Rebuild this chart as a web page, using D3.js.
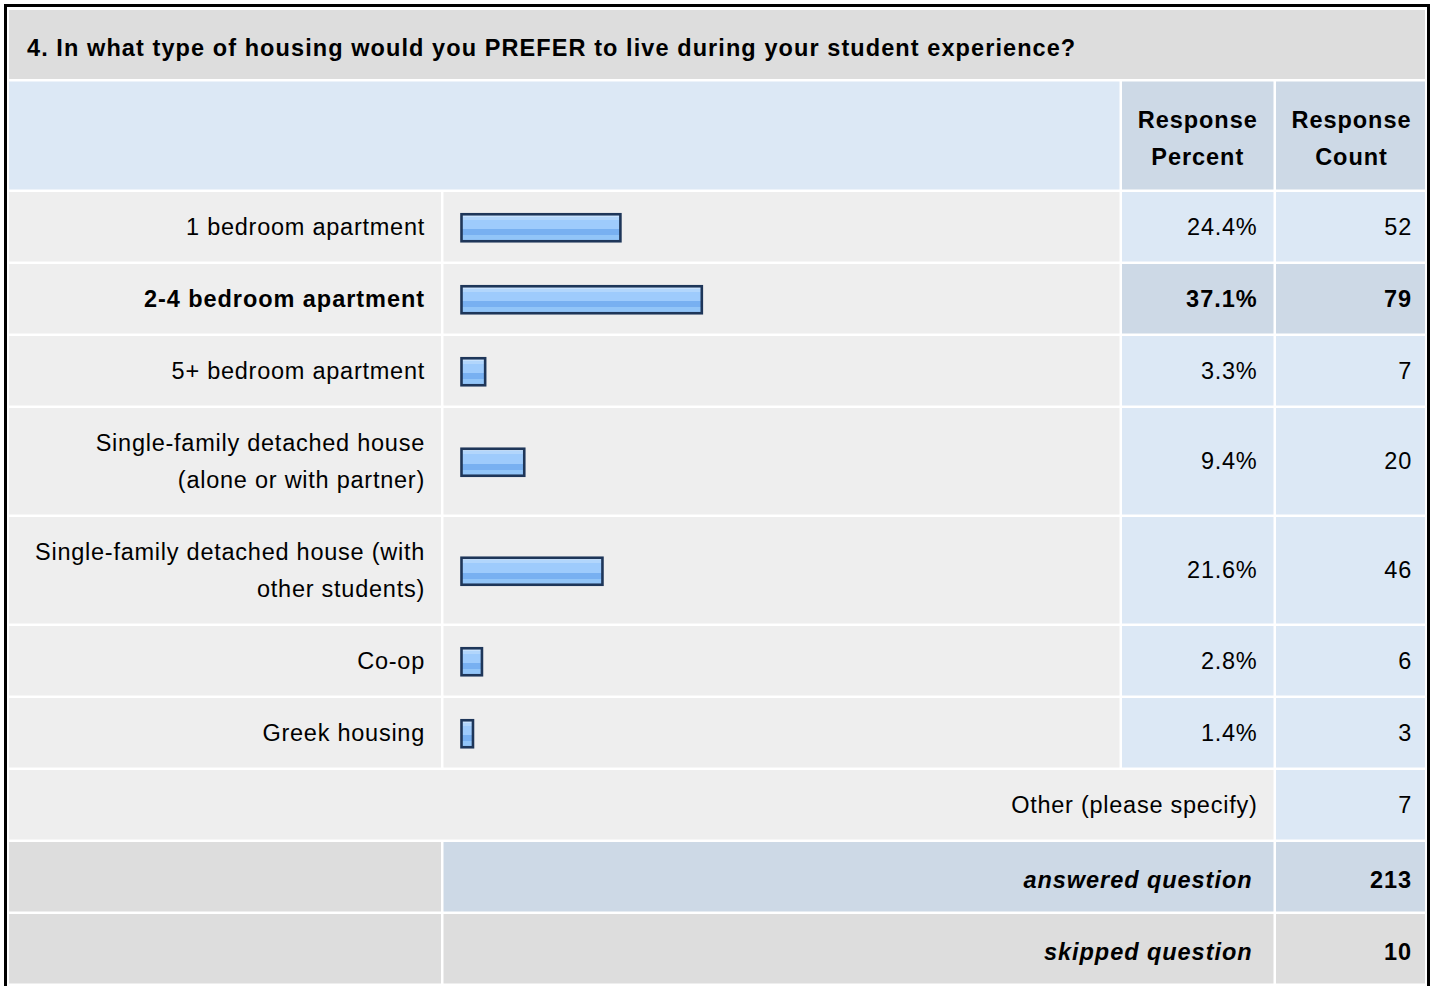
<!DOCTYPE html>
<html><head><meta charset="utf-8">
<script src="https://cdn.jsdelivr.net/npm/d3@7"></script>
<style>
body{margin:0;background:#fff;}
svg{display:block;}
text{font-family:"Liberation Sans",Arial,Helvetica,sans-serif;fill:#000;}
</style>
</head><body>
<svg id="chart" width="1437" height="986"></svg>
<script>
// ---- data ----
const title = "4. In what type of housing would you PREFER to live during your student experience?";
const headerPercent = ["Response", "Percent"];
const headerCount = ["Response", "Count"];
const categories = [
  "1 bedroom apartment",
  "2-4 bedroom apartment",
  "5+ bedroom apartment",
  "Single-family detached house\n(alone or with partner)",
  "Single-family detached house (with\nother students)",
  "Co-op",
  "Greek housing"
];
const percents = [24.4, 37.1, 3.3, 9.4, 21.6, 2.8, 1.4];
const counts = [52, 79, 7, 20, 46, 6, 3];
const otherLabel = "Other (please specify)";
const otherCount = 7;
const summaryLabels = ["answered question", "skipped question"];
const summaryValues = [213, 10];

// ---- style / layout ----
const FS = 23.5, LS_N = 0.75, LS_B = 0.95, LINE = 37;
const C = {
  title: "#dddddd", head: "#dce8f5", headDark: "#cdd9e6",
  cell: "#eeeeee", val: "#dce8f5", valHi: "#cdd9e6", sum: "#dddddd"
};
const cols = [[9, 441], [443.5, 1119.5], [1122, 1273.5], [1276, 1425]];
const GAP = 2.5;

const svg = d3.select("#chart");
svg.append("rect").attr("width", 1437).attr("height", 986).attr("fill", "#fff");

const defs = svg.append("defs");
const grad = defs.append("linearGradient").attr("id", "barGrad")
  .attr("x1", 0).attr("y1", 0).attr("x2", 0).attr("y2", 1);
[[0, "#c8e2fd"], [0.1, "#c8e2fd"], [0.1, "#b2d6fc"], [0.2, "#b2d6fc"], [0.2, "#9ecbfc"],
 [0.55, "#9ecbfc"], [0.55, "#78b0f1"], [0.78, "#78b0f1"], [0.78, "#92c5f8"], [1, "#92c5f8"]]
  .forEach(([o, c]) => grad.append("stop").attr("offset", o).attr("stop-color", c));

const maxIdx = d3.maxIndex(percents);
const x = d3.scaleLinear().domain([0, 100]).range([0, 641]);

function cell(x0, x1, y, h, fill) {
  svg.append("rect").attr("x", x0).attr("y", y).attr("width", x1 - x0).attr("height", h).attr("fill", fill);
}
function txt(lines, xPos, cy, anchor, weight, style, dy) {
  const n = lines.length;
  const bold = weight === "bold" || style === "italic";
  lines.forEach((l, i) => {
    const lc = cy - (n - 1) * LINE / 2 + i * LINE;
    svg.append("text").attr("x", xPos).attr("y", lc + FS * 0.35 + (dy || 0))
      .attr("text-anchor", anchor).attr("font-size", FS)
      .attr("font-weight", weight || "normal").attr("font-style", style || "normal")
      .attr("letter-spacing", bold ? LS_B : LS_N).text(l);
  });
}
function rowH(n) { return 32.5 + LINE * n; }

// outer border
svg.append("rect").attr("x", 5.5).attr("y", 5.5).attr("width", 1423).attr("height", 1000)
  .attr("fill", "none").attr("stroke", "#000").attr("stroke-width", 3);

let y = 10;
// title
cell(cols[0][0], cols[3][1], y, 69, C.title);
svg.append("text").attr("x", 27).attr("y", y + 46).attr("font-size", FS).attr("font-weight", "bold")
  .attr("letter-spacing", 1.08).text(title);
y += 69 + GAP;

// header
const hh = 108;
cell(cols[0][0], cols[1][1], y, hh, C.head);
cell(cols[2][0], cols[2][1], y, hh, C.headDark);
cell(cols[3][0], cols[3][1], y, hh, C.headDark);
txt(headerPercent, (cols[2][0] + cols[2][1]) / 2, y + hh / 2, "middle", "bold", null, 3);
txt(headerCount, (cols[3][0] + cols[3][1]) / 2 + 1, y + hh / 2, "middle", "bold", null, 3);
y += hh + GAP;

// data rows
categories.forEach((cat, i) => {
  const lines = cat.split("\n");
  const h = rowH(lines.length);
  const hi = i === maxIdx;
  const cy = y + h / 2;
  cell(cols[0][0], cols[0][1], y, h, C.cell);
  cell(cols[1][0], cols[1][1], y, h, C.cell);
  cell(cols[2][0], cols[2][1], y, h, hi ? C.valHi : C.val);
  cell(cols[3][0], cols[3][1], y, h, hi ? C.valHi : C.val);
  txt(lines, cols[0][1] - 16, cy, "end", hi ? "bold" : "normal");
  // bar
  const bx = cols[1][0] + 18, bh = 27;
  svg.append("rect").attr("x", bx).attr("y", cy - bh / 2 + 1)
    .attr("width", x(percents[i]) + 2.5).attr("height", bh)
    .attr("fill", "url(#barGrad)").attr("stroke", "#1e3659").attr("stroke-width", 2.6);
  txt([percents[i].toFixed(1) + "%"], cols[2][1] - 16, cy, "end", hi ? "bold" : "normal");
  txt([String(counts[i])], cols[3][1] - 13, cy, "end", hi ? "bold" : "normal");
  y += h + GAP;
});

// other row
{
  const h = rowH(1), cy = y + h / 2;
  cell(cols[0][0], cols[2][1], y, h, C.cell);
  cell(cols[3][0], cols[3][1], y, h, C.val);
  txt([otherLabel], cols[2][1] - 16, cy, "end");
  txt([String(otherCount)], cols[3][1] - 13, cy, "end");
  y += h + GAP;
}

// summary rows
summaryLabels.forEach((lab, i) => {
  const h = rowH(1), cy = y + h / 2;
  const mid = i === 0 ? C.valHi : C.sum;
  cell(cols[0][0], cols[0][1], y, h, C.sum);
  cell(cols[1][0], cols[2][1], y, h, mid);
  cell(cols[3][0], cols[3][1], y, h, mid);
  txt([lab], cols[2][1] - 21, cy, "end", "bold", "italic", 3);
  txt([String(summaryValues[i])], cols[3][1] - 13, cy, "end", "bold", null, 3);
  y += h + GAP;
});
</script>
</body></html>
